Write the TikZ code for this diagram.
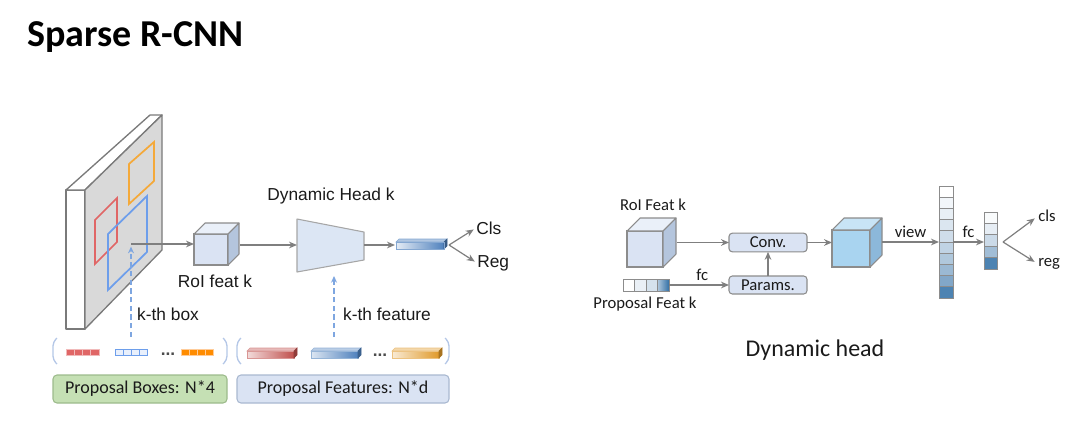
\documentclass[tikz,border=0pt]{standalone}
\usepackage{fontspec}
\setmainfont{Liberation Sans}
\newfontfamily\calib{Carlito}
\usetikzlibrary{arrows.meta}
\definecolor{arrgray}{HTML}{7F7F7F}
\definecolor{edgegray}{HTML}{8C8C8C}
\definecolor{slabgray}{HTML}{D9D9D9}
\definecolor{slabedge}{HTML}{7A7A7A}
\definecolor{redbox}{HTML}{E06666}
\definecolor{orangebox}{HTML}{F4A93A}
\definecolor{bluebox}{HTML}{6D9EEB}
\definecolor{dashblue}{HTML}{7EA6E0}
\definecolor{bracketblue}{HTML}{B4C7E7}
\definecolor{cubefront}{HTML}{DAE3F3}
\definecolor{cubetop}{HTML}{EAF0F9}
\definecolor{cubeside}{HTML}{B4C5DD}
\definecolor{cubeBfront}{HTML}{A9D4F0}
\definecolor{cubeBtop}{HTML}{C8E4F6}
\definecolor{cubeBside}{HTML}{8CB8DA}
\definecolor{trapfill}{HTML}{DCE6F4}
\definecolor{trapedge}{HTML}{A6A6A6}
\definecolor{txt}{HTML}{1A1A1A}
\definecolor{greenfill}{HTML}{C5E0B4}
\definecolor{greenedge}{HTML}{9DBB8C}
\definecolor{bluefill}{HTML}{DAE3F3}
\definecolor{blueedge}{HTML}{A9B8D0}
\definecolor{barred}{HTML}{C0504D}
\definecolor{barblue}{HTML}{4F81BD}
\definecolor{barorange}{HTML}{E09A2B}
\definecolor{vecblue}{HTML}{2E6DA4}
\begin{document}
\begin{tikzpicture}[x=0.75pt,y=-0.75pt,
  arr/.style={draw=arrgray, line width=0.9pt, -{Stealth[length=6pt,width=5pt]}},
  dasharr/.style={draw=dashblue, line width=1pt, dash pattern=on 4pt off 2.5pt, -{Stealth[length=5pt,width=4.5pt]}},
  lab/.style={inner sep=0pt, text=txt, font=\fontsize{13}{15}\selectfont},
  clab/.style={inner sep=0pt, text=txt, font=\calib\fontsize{12.5}{15}\selectfont},
  facebox/.style={draw=edgegray, line width=0.8pt, line join=round},
  rbox/.style={draw=edgegray, fill=cubefront, rounded corners=2.5pt, line width=0.8pt, minimum width=58.5pt, minimum height=14pt, inner sep=0pt, outer sep=0pt, font=\calib\fontsize{12.5}{15}\selectfont, text=txt},
  cubenode/.style={draw=edgegray, line width=0.8pt, inner sep=0pt, outer sep=0pt},
  bracket/.style={draw=bracketblue, line width=1pt, rounded corners=3pt},
  pbox/.style={rounded corners=3pt, line width=0.8pt, minimum height=21pt, inner sep=0pt, text=txt, font=\calib\fontsize{13.5}{16}\selectfont},
  dotlab/.style={inner sep=0pt, anchor=base, text=black!70, font=\bfseries\fontsize{13}{15}\selectfont},
]
\useasboundingbox (0,0) rectangle (1080,428);

% title
\node[anchor=base west, inner sep=0pt, text=black, font=\calib\bfseries\fontsize{28.5}{32}\selectfont] (title) at (27,47) {Sparse R-CNN};

% ---------- left diagram ----------
% feature map slab
\filldraw[fill=white, draw=slabedge, line width=1pt, line join=round] (66,190) -- (85,190) -- (85,329) -- (66,329) -- cycle;
\filldraw[fill=white, draw=slabedge, line width=1pt, line join=round] (66,190) -- (150,115) -- (162,115) -- (85,190) -- cycle;
\filldraw[fill=slabgray, draw=slabedge, line width=1pt, line join=round] (85,190) -- (162,115) -- (162,250) -- (85,329) -- cycle;
% boxes on the map
\draw[redbox, line width=1.3pt] (95,220) -- (117,198) -- (117,242) -- (95,264) -- cycle;
\draw[orangebox, line width=1.3pt] (129,164) -- (154,142) -- (154,181) -- (129,204) -- cycle;
\draw[bluebox, line width=1.3pt] (108,234) -- (147,196) -- (147,252) -- (108,290) -- cycle;
\coordinate (kbox) at (131,244);
\coordinate (kboxlow) at (131,337);

% RoI cube
\node[cubenode, fill=cubefront, minimum width=25.5pt, minimum height=23.25pt] (roi) at (211,249.5) {};
\filldraw[fill=cubetop, facebox] (roi.north west) -- ++(11,-11) -- ++(34,0) -- (roi.north east) -- cycle;
\filldraw[fill=cubeside, facebox] (roi.north east) -- ++(11,-11) -- ++(0,31) -- (roi.south east) -- cycle;
\node[lab] (roilab) at (215,281) {RoI feat k};
\draw[arr] (kbox) -- (kbox -| roi.west);
\draw[dasharr, shorten >=2pt] (kboxlow) -- (kbox);
\node[lab] (kboxlab) at (168,314) {k-th box};

% dynamic head trapezoid
\filldraw[fill=trapfill, draw=trapedge, line width=0.8pt, line join=round] (297,219) -- (364,232) -- (364,260) -- (297,272) -- cycle;
\coordinate (trapL) at (297,245);
\coordinate (trapR) at (364,245);
\coordinate (trapB) at (334,266);
\coordinate (roiR) at (240,245);
\draw[arr] (roiR) -- (trapL);
\node[lab] (dhk) at (331,196) {Dynamic Head k};

% output feature bar
\shade[left color=barblue!15!white, right color=barblue] (396,242) rectangle (444,249);
\filldraw[fill=barblue!45!white, draw=barblue!70!white, line width=0.4pt] (396,242) -- (399,239) -- (447,239) -- (444,242) -- cycle;
\filldraw[fill=barblue!70!black, draw=barblue!70!black, line width=0.4pt] (444,242) -- (447,239) -- (447,246) -- (444,249) -- cycle;
\draw[barblue!70!white, line width=0.4pt] (396,242) rectangle (444,249);
\coordinate (featL) at (395,245);
\coordinate (featR) at (449,245);
\draw[arr] (trapR) -- (featL);
\node[lab, anchor=west] (cls) at (476,228) {Cls};
\node[lab, anchor=west] (reg) at (477,263) {Reg};
\draw[arr, shorten >=2pt] (featR) -- (cls.west);
\draw[arr, shorten >=2pt] (featR) -- (reg.west);

\coordinate (kfeatlow) at (334,337);
\draw[dasharr, shorten >=7.5pt] (kfeatlow) -- (trapB);
\node[lab] (kfeatlab) at (387,314) {k-th feature};

% brackets
\draw[bracket] (57,338) -- (53,342) -- (53,360) -- (57,364);
\draw[bracket] (223,338) -- (227,342) -- (227,360) -- (223,364);
\draw[bracket] (241,338) -- (237,342) -- (237,360) -- (241,364);
\draw[bracket] (445,338) -- (449,342) -- (449,360) -- (445,364);

% proposal boxes (small cells)
\foreach \i in {0,...,3} {
  \filldraw[fill=redbox, draw=redbox!45!white, line width=0.5pt] (66+8.25*\i,349) rectangle ++(8.25,6.5);
  \filldraw[fill=bluebox!15!white, draw=bluebox, line width=0.6pt] (115+8*\i,349) rectangle ++(8,6.5);
  \filldraw[fill=orange!90!yellow, draw=orange!40!white, line width=0.5pt] (181+8*\i,349) rectangle ++(8,6.5);
}
\node[dotlab] (dots1) at (168,355) {...};

% proposal features (3D bars)
\foreach \x/\c in {247/barred,311/barblue,392/barorange} {
  \shade[left color=\c!20!white, right color=\c] (\x,351) rectangle (\x+47,358);
  \draw[\c!60!white, line width=0.4pt] (\x,351) rectangle (\x+47,358);
  \filldraw[fill=\c!40!white, draw=\c!60!white, line width=0.4pt] (\x,351) -- (\x+3,348) -- (\x+50,348) -- (\x+47,351) -- cycle;
  \filldraw[fill=\c!75!black, draw=\c!75!black, line width=0.4pt] (\x+47,351) -- (\x+50,348) -- (\x+50,355) -- (\x+47,358) -- cycle;
}
\node[dotlab] (dots2) at (380,356) {...};

% bottom labels
\node[pbox, draw=greenedge, fill=greenfill, minimum width=130.5pt] (pboxes) at (140,389) {Proposal Boxes: N*4};
\node[pbox, draw=blueedge, fill=bluefill, minimum width=159pt] (pfeats) at (343,389) {Proposal Features: N*d};

% ---------- right diagram ----------
\node[cubenode, fill=cubefront, minimum width=27pt, minimum height=27pt] (cubeA) at (645,249) {};
\filldraw[fill=cubetop, facebox] (cubeA.north west) -- ++(13,-13) -- ++(36,0) -- (cubeA.north east) -- cycle;
\filldraw[fill=cubeside, facebox] (cubeA.north east) -- ++(13,-13) -- ++(0,36) -- (cubeA.south east) -- cycle;
\node[clab] (roifeat) at (653,205) {RoI Feat k};

\node[rbox] (conv) at (768,242.5) {Conv.};
\node[rbox, minimum height=13.5pt] (params) at (768,285) {Params.};
\coordinate (cubeAR) at (677,242.5);
\draw[arr] (cubeAR) -- (conv.west);
\draw[arr] (params.north) -- (conv.south);

% proposal feat bar
\foreach \i/\p in {0/0,1/10,2/20,3/35} {
  \filldraw[fill=vecblue!\p!white, draw=edgegray, line width=0.6pt] (623+11.6*\i,279) rectangle ++(11.6,12);
}
\shade[left color=vecblue!40!white, right color=vecblue] (657.8,279) rectangle ++(11.6,12);
\draw[edgegray, line width=0.6pt] (657.8,279) rectangle ++(11.6,12);
\draw[edgegray, line width=0.6pt] (623,279) rectangle (669.4,291);
\coordinate (pfR) at (669.4,285);
\draw[arr] (pfR) -- node[clab, above=3pt, pos=0.55] (fc1) {fc} (params.west);
\node[clab] (pflab) at (645,304) {Proposal Feat k};

% cube B
\node[cubenode, fill=cubeBfront, minimum width=28.5pt, minimum height=27.75pt] (cubeB) at (851,248.5) {};
\filldraw[fill=cubeBtop, facebox] (cubeB.north west) -- ++(12,-12) -- ++(38,0) -- (cubeB.north east) -- cycle;
\filldraw[fill=cubeBside, facebox] (cubeB.north east) -- ++(12,-12) -- ++(0,37) -- (cubeB.south east) -- cycle;
\draw[arr] (conv.east) -- (conv.east -| cubeB.west);

% tall vector
\node[inner sep=0pt, outer sep=0pt, minimum width=10.5pt, minimum height=84pt] (vec) at (946,242) {};
\foreach \i/\p in {0/0,1/6,2/11,3/17,4/23,5/30,6/38,7/48,8/60,9/85} {
  \filldraw[fill=vecblue!\p!white, draw=edgegray, line width=0.6pt] (939,186+11.2*\i) rectangle ++(14,11.2);
}
\coordinate (cubeBR) at (882,242);
\draw[arr] (cubeBR) -- node[clab, above=3pt] (viewlab) {view} (vec.west);

% small vector
\node[inner sep=0pt, outer sep=0pt, minimum width=9.75pt, minimum height=42.75pt] (svec) at (990.5,240.5) {};
\foreach \i/\p in {0/3,1/12,2/25,3/45,4/85} {
  \filldraw[fill=vecblue!\p!white, draw=edgegray, line width=0.6pt] (984,212+11.4*\i) rectangle ++(13,11.4);
}
\draw[arr] (vec.east) -- node[clab, above=3pt] (fc2) {fc} (vec.east -| svec.west);

\coordinate (br2) at (1003,242);
\node[clab, anchor=west] (cls2) at (1038,216) {cls};
\node[clab, anchor=west] (reg2) at (1038,264) {reg};
\draw[arr, shorten >=3pt] (br2) -- (cls2.west);
\draw[arr, shorten >=3pt] (br2) -- (reg2.west);

\node[inner sep=0pt, text=txt, font=\calib\fontsize{18}{21}\selectfont] (dynhead) at (815,350) {Dynamic head};
\end{tikzpicture}
\end{document}
